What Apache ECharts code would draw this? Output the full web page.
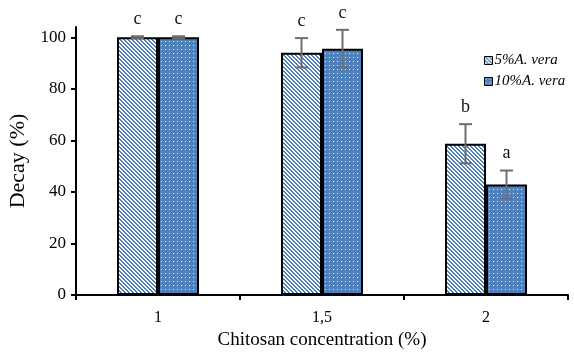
<!DOCTYPE html>
<html><head><meta charset="utf-8">
<script src="https://cdn.jsdelivr.net/npm/echarts@6/dist/echarts.min.js"></script>
<style>html,body{margin:0;padding:0;background:#fff}#c{width:574px;height:356px}</style>
</head><body><div id="c"></div>
<script>
const categories = ['1', '1,5', '2'];
const seriesNames = ['5%A. vera', '10%A. vera'];
const decay5 = [100, 94, 58.7];
const decay10 = [100, 95.6, 42.9];
const err5 = [0.4, 5.7, 7.6];
const err10 = [0.4, 7.3, 5.4];
const letters5 = ['c', 'c', 'b'];
const letters10 = ['c', 'c', 'a'];
const yTicks = [0, 20, 40, 60, 80, 100];

const BLUE = '#4f81bd';
function stripes() {
  const c = document.createElement('canvas'); c.width = 4; c.height = 4;
  const g = c.getContext('2d');
  g.fillStyle = '#fff'; g.fillRect(0, 0, 4, 4);
  g.fillStyle = BLUE;
  for (let y = 0; y < 4; y++) { g.fillRect(y % 4, y, 1, 1); g.fillRect((y + 1) % 4, y, 1, 1); }
  return c;
}
function dots() {
  const c = document.createElement('canvas'); c.width = 4; c.height = 4;
  const g = c.getContext('2d');
  g.fillStyle = BLUE; g.fillRect(0, 0, 4, 4);
  g.fillStyle = '#e8eef8'; g.fillRect(1, 1, 1, 1);
  return c;
}
const pat1 = { image: stripes(), repeat: 'repeat' };
const pat2 = { image: dots(), repeat: 'repeat' };

const BAR_W = 41;
function errRender(offset, letters) {
  return function (params, api) {
    const i = api.value(0), v = api.value(1), e = api.value(2);
    const top = api.coord([i, v + e]);
    const bot = api.coord([i, v - e]);
    const cx = top[0] + offset;
    const cap = 6.5;
    const ls = { stroke: '#6d6d6d', lineWidth: 2 };
    return {
      type: 'group',
      children: [
        { type: 'line', shape: { x1: cx, y1: top[1], x2: cx, y2: bot[1] }, style: ls },
        { type: 'line', shape: { x1: cx - cap, y1: top[1], x2: cx + cap, y2: top[1] }, style: ls },
        { type: 'line', shape: { x1: cx - cap, y1: bot[1], x2: cx + cap, y2: bot[1] }, style: ls },
        { type: 'text', style: { text: letters[params.dataIndex], x: cx, y: top[1] - 8, align: 'center', verticalAlign: 'bottom', font: '18px "Liberation Serif"', fill: '#111' } }
      ]
    };
  };
}

const chart = echarts.init(document.getElementById('c'), null, { renderer: 'canvas' });
chart.setOption({
  animation: false,
  grid: { left: 76, right: 6, top: 27, bottom: 61, containLabel: false, outerBoundsMode: 'none' },
  legend: {
    data: seriesNames, orient: 'vertical', left: 479, top: 48, itemGap: 6,
    itemWidth: 8, itemHeight: 8, icon: 'rect',
    itemStyle: { borderColor: '#000', borderWidth: 1 },
    textStyle: { fontFamily: 'Liberation Serif', fontStyle: 'italic', fontSize: 15, color: '#000', padding: [0, 0, 0, -3] }
  },
  xAxis: {
    type: 'category', data: categories,
    name: 'Chitosan concentration (%)', nameLocation: 'middle', nameGap: 36,
    nameTextStyle: { fontFamily: 'Liberation Serif', fontSize: 19, color: '#000' },
    axisLine: { show: true, lineStyle: { color: '#000', width: 2 } },
    axisTick: { show: true, length: 5, alignWithLabel: false, interval: 0, lineStyle: { color: '#000', width: 2 } },
    axisLabel: { fontFamily: 'Liberation Serif', fontSize: 16, color: '#000', margin: 15 }
  },
  yAxis: {
    type: 'value', min: 0, max: 104, interval: 20,
    name: 'Decay (%)', nameLocation: 'middle', nameGap: 41,
    nameTextStyle: { fontFamily: 'Liberation Serif', fontSize: 22, color: '#000' },
    axisLine: { show: true, lineStyle: { color: '#000', width: 2 } },
    axisTick: { show: true, length: 5, customValues: yTicks, lineStyle: { color: '#000', width: 2 } },
    axisLabel: { fontFamily: 'Liberation Serif', fontSize: 17, color: '#000', margin: 10, customValues: yTicks },
    splitLine: { show: false }
  },
  series: [
    { name: seriesNames[0], type: 'bar', data: decay5, barWidth: BAR_W, barGap: '0%',
      itemStyle: { color: pat1, borderColor: '#000', borderWidth: 2 } },
    { name: seriesNames[1], type: 'bar', data: decay10, barWidth: BAR_W, barGap: '0%',
      itemStyle: { color: pat2, borderColor: '#000', borderWidth: 2 } },
    { type: 'custom', z: 5, renderItem: errRender(-BAR_W / 2, letters5),
      data: categories.map((c, i) => [i, decay5[i], err5[i]]) },
    { type: 'custom', z: 5, renderItem: errRender(BAR_W / 2, letters10),
      data: categories.map((c, i) => [i, decay10[i], err10[i]]) }
  ]
});
</script>
</body></html>
